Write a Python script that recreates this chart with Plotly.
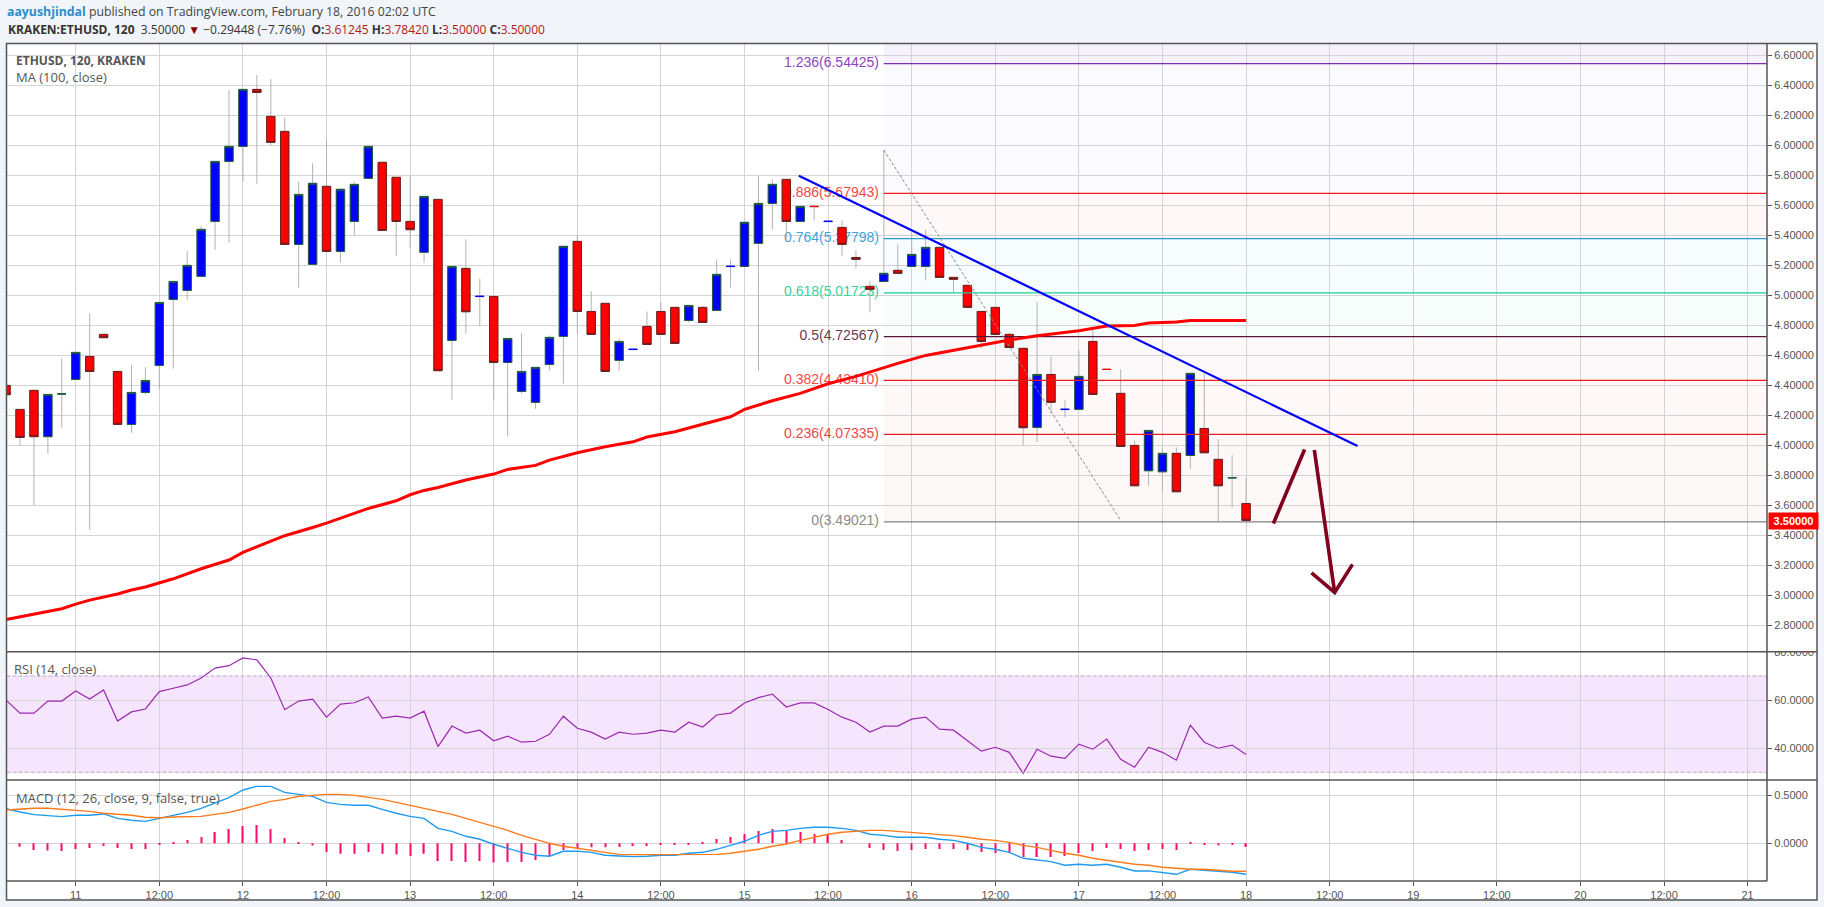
import datetime
import plotly.graph_objects as go

W = 1824
H = 907

# bars are 2h, bar 0 is Feb 11 00:00
first_bar = -5
open_ = [4.40, 4.24, 4.367, 4.058, 4.342, 4.44, 4.593, 4.74, 4.493, 4.14, 4.353, 4.533, 4.973, 5.033, 5.127, 5.493, 5.893, 5.993,
         6.373, 6.193, 6.093, 5.34, 5.207, 5.727, 5.293, 5.493, 5.78, 5.887, 5.787, 5.493, 5.287, 5.64, 4.7, 5.18, 4.992, 4.993,
         4.553, 4.36, 4.287, 4.54, 4.727, 5.36, 4.893, 4.947, 4.567, 4.639, 4.793, 4.893, 4.92, 4.833, 4.92, 4.9, 5.192, 5.193,
         5.347, 5.613, 5.773, 5.493, 5.594, 5.492, 5.453, 5.253, 5.06, 5.093, 5.167, 5.193, 5.193, 5.32, 5.12, 5.067, 4.893, 4.92,
         4.74, 4.647, 4.12, 4.473, 4.239, 4.24, 4.693, 4.508, 4.347, 4.0, 3.831, 3.824, 3.947, 3.933, 4.113, 3.907, 3.783, 3.61245]
high = [4.40, 4.24, 4.367, 4.34, 4.582, 4.62, 4.88, 4.74, 4.493, 4.536, 4.522, 4.953, 5.093, 5.296, 5.462, 5.893, 6.369, 6.373,
        6.469, 6.442, 6.187, 5.76, 5.88, 6.04, 5.713, 5.76, 5.993, 5.887, 5.787, 5.791, 5.66, 5.64, 5.193, 5.373, 5.113, 4.993,
        4.713, 4.749, 4.52, 4.733, 5.327, 5.40, 5.027, 4.947, 4.713, 4.641, 4.893, 4.953, 4.92, 4.933, 4.93, 5.24, 5.24, 5.487,
        5.796, 5.773, 5.773, 5.593, 5.594, 5.494, 5.5, 5.3, 5.093, 5.969, 5.34, 5.42, 5.436, 5.32, 5.12, 5.067, 4.893, 4.92,
        4.747, 4.647, 4.956, 4.593, 4.3, 4.633, 4.773, 4.508, 4.507, 4.033, 4.1, 3.991, 3.987, 4.48, 4.48, 4.042, 3.936, 3.7842]
low = [4.338, 4.00, 3.60, 3.944, 4.118, 4.44, 3.438, 4.718, 4.14, 4.084, 4.338, 4.378, 4.511, 4.971, 5.127, 5.304, 5.351, 5.758,
       5.744, 6.0, 5.34, 5.051, 5.207, 5.293, 5.218, 5.398, 5.78, 5.433, 5.264, 5.318, 5.218, 4.498, 4.304, 4.744, 4.8, 4.298,
       4.06, 4.344, 4.244, 4.498, 4.411, 4.744, 4.74, 4.493, 4.498, 4.639, 4.673, 4.74, 4.68, 4.818, 4.82, 4.9, 5.051, 5.193,
       4.498, 5.438, 5.353, 5.493, 5.5, 5.492, 5.26, 5.18, 4.887, 5.093, 5.147, 5.193, 5.1, 5.12, 5.02, 4.92, 4.647, 4.74,
       4.653, 4.0, 4.022, 4.213, 4.187, 4.24, 4.34, 4.506, 3.993, 3.731, 3.731, 3.698, 3.691, 3.844, 3.951, 3.496, 3.584, 3.5]
close = [4.338, 4.053, 4.058, 4.34, 4.344, 4.62, 4.493, 4.718, 4.14, 4.353, 4.433, 4.953, 5.093, 5.2, 5.44, 5.893, 5.993, 6.373,
         6.353, 6.02, 5.34, 5.673, 5.747, 5.293, 5.707, 5.74, 5.993, 5.433, 5.493, 5.438, 5.66, 4.498, 5.193, 4.891, 4.994, 4.553,
         4.713, 4.493, 4.52, 4.72, 5.327, 4.893, 4.74, 4.493, 4.693, 4.641, 4.673, 4.74, 4.68, 4.933, 4.82, 5.14, 5.194, 5.487,
         5.613, 5.74, 5.493, 5.593, 5.592, 5.494, 5.34, 5.24, 5.04, 5.147, 5.147, 5.273, 5.32, 5.12, 5.107, 4.92, 4.693, 4.74,
         4.653, 4.118, 4.473, 4.287, 4.241, 4.46, 4.34, 4.506, 3.993, 3.731, 4.1, 3.947, 3.691, 4.48, 3.951, 3.731, 3.785, 3.5]
thin_dash_bars = [29, 40, 47, 53, 54, 71, 74]

ma_bars = [-5, -3, -1, 0, 1, 3, 4, 5, 6, 7, 9, 11, 12, 14, 15, 17, 18, 21, 23, 24, 25, 26, 28, 30, 31, 33, 34, 36, 38, 40, 41, 43,
           45, 47, 48, 49, 50, 52, 54, 56, 58, 59, 61, 64, 65, 67, 69, 72, 74, 76, 77, 79, 80, 84]
ma_values = [2.84, 2.876, 2.911, 2.942, 2.969, 3.01, 3.036, 3.056, 3.084, 3.111, 3.178, 3.236, 3.287, 3.362, 3.398, 3.453, 3.482,
             3.58, 3.631, 3.671, 3.7, 3.72, 3.769, 3.809, 3.84, 3.867, 3.902, 3.951, 3.991, 4.024, 4.056, 4.091, 4.14, 4.191, 4.24,
             4.269, 4.298, 4.347, 4.411, 4.46, 4.52, 4.547, 4.6, 4.651, 4.669, 4.702, 4.731, 4.764, 4.796, 4.8, 4.816, 4.822, 4.833, 4.833]

rsi = [60, 54.6, 54.6, 59.6, 59.6, 63.8, 60.4, 64.2, 51.3, 55.1, 56.3, 63.5, 64.9, 66.3, 69.2, 73.3, 74.3, 77.5, 76.7, 69.2, 56, 59.6,
       60.4, 52.9, 58.3, 58.9, 61.3, 52.5, 53.3, 52.5, 55.4, 40.7, 49.2, 46.3, 47.5, 43.1, 45, 42.5, 42.9, 45.8, 53.3, 48.3, 46.7, 43.8,
       46.7, 45.8, 46.3, 47.5, 46.7, 50.8, 48.8, 53.8, 54.6, 58.8, 61, 62.5, 57.1, 58.8, 58.8, 56.1, 52.9, 50.8, 46.7, 49.2, 49.2, 52.1,
       52.9, 47.9, 47.5, 43.3, 38.8, 40.4, 38.3, 29.6, 39.6, 36.7, 35.8, 41.7, 39.6, 43.8, 35.4, 32.1, 40.4, 38.3, 35, 49.6, 42.5, 40,
       41.3, 37.4]

macd = [.361, .326, .299, .288, .278, .292, .292, .306, .26, .24, .229, .26, .292, .323, .365, .424, .476, .556, .594, .594, .531, .51,
        .49, .427, .406, .396, .396, .354, .313, .281, .26, .156, .125, .073, .042, -.01, -.052, -.094, -.125, -.135, -.083, -.083,
        -.094, -.125, -.132, -.139, -.135, -.125, -.125, -.104, -.094, -.0625, -.021, .021, .083, .125, .135, .156, .167, .167, .156,
        .135, .094, .083, .0625, .0625, .0625, .042, .031, 0, -.042, -.0625, -.094, -.156, -.174, -.191, -.229, -.219, -.229, -.219,
        -.25, -.288, -.288, -.302, -.323, -.271, -.281, -.288, -.302, -.323]
signal = [.347, .358, .365, .365, .354, .344, .333, .313, .302, .292, .271, .267, .274, .281, .281, .302, .323, .358, .399, .4375, .458,
          .49, .5, .51, .51, .5, .479, .458, .427, .396, .365, .333, .302, .26, .219, .177, .135, .083, .042, 0, -.031, -.052, -.073,
          -.094, -.115, -.118, -.118, -.118, -.118, -.118, -.115, -.115, -.104, -.083, -.0625, -.031, -.007, .031, .0625, .094, .115,
          .125, .135, .135, .125, .115, .104, .094, .08, .0625, .042, .031, .01, -.021, -.042, -.073, -.104, -.125, -.156, -.177,
          -.198, -.219, -.229, -.25, -.26, -.271, -.271, -.281, -.292, -.292]
hist = [0, -.035, -.07, -.076, -.08, -.059, -.049, -.028, -.049, -.059, -.059, -.01, .014, .035, .066, .118, .149, .18, .19, .149, .056,
        .014, -.024, -.09, -.108, -.108, -.09, -.108, -.118, -.132, -.108, -.184, -.184, -.194, -.184, -.2, -.194, -.194, -.174, -.132,
        -.07, -.049, -.042, -.042, -.038, -.028, -.028, -.017, -.014, -.01, .014, .045, .066, .097, .128, .149, .128, .118, .097, .087,
        .035, 0, -.049, -.07, -.08, -.07, -.059, -.059, -.059, -.07, -.09, -.1, -.09, -.142, -.142, -.142, -.132, -.1, -.08, -.049,
        -.059, -.08, -.07, -.059, -.07, .014, -.014, -.024, -.01, -.038]

fib_prices = [6.54425, 5.67943, 5.37798, 5.01723, 4.72567, 4.43410, 4.07335, 3.49021]
fib_labels = ["1.236(6.54425)", "0.886(5.67943)", "0.764(5.37798)", "0.618(5.01723)", "0.5(4.72567)", "0.382(4.43410)",
              "0.236(4.07335)", "0(3.49021)"]
fib_colors = ["#7b2fb5", "#f01818", "#2a9ad6", "#1fcf98", "#55183a", "#f01818", "#e02020", "#808080"]
fib_text_colors = ["#8a45c0", "#f44848", "#3fa3dc", "#35d3a0", "#6a3a55", "#f44848", "#e64a4a", "#8a8a8a"]
fib_bands = ["#fafaff", "#fff8f8", "#f7fcff", "#f7fdfb", "#fbf8fa", "#fff8f8", "#fdf8f8"]
fib_top_band = "#f5f2fd"
fib_start = 58

trend_bars = [51.9, 92]
trend_prices = [5.798, 3.996]
retrace_bars = [58, 75]
retrace_prices = [5.969, 3.50]
drawn_up_bars = [85.96, 88.2]
drawn_up_prices = [3.48, 3.973]
drawn_down_bars = [88.9, 90.36]
drawn_down_prices = [3.969, 3.02]
drawn_head_bars = [88.7, 90.36, 91.64]
drawn_head_prices = [3.151, 3.02, 3.207]

day_ticks = [0, 6, 12, 18, 24, 30, 36, 42, 48, 54, 60, 66, 72, 78, 84, 90, 96, 102, 108, 114, 120]
day_labels = ["11", "12:00", "12", "12:00", "13", "12:00", "14", "12:00", "15", "12:00", "16", "12:00", "17", "12:00", "18",
              "12:00", "19", "12:00", "20", "12:00", "21"]


def bar_time(i):
    return datetime.datetime(2016, 2, 11) + datetime.timedelta(hours=2 * i)


def px(x):
    return x / W


def py(y):
    return 1 - y / H


bars = list(range(first_bar, first_bar + len(close)))
times = [bar_time(i) for i in bars]
x_range = [bar_time(-4.97), bar_time(121.39)]

GRID = "#d4d4d4"
FRAME = "#555555"
TEXT = "#555555"
FONT = "Liberation Sans"

fig = go.Figure()

# fib text sits on the base axis so the candles go over it
fig.add_trace(go.Scatter(x=[bar_time(fib_start - 0.35)] * len(fib_prices), y=fib_prices, mode="text", text=fib_labels,
                         textposition="middle left", textfont=dict(family=FONT, size=14, color=fib_text_colors),
                         yaxis="y", hoverinfo="skip"))

# wicks
fig.add_trace(go.Candlestick(x=times, open=open_, high=high, low=low, close=close, yaxis="y4", whiskerwidth=0,
                             increasing=dict(line=dict(color="#b3b3b3", width=1), fillcolor="#b3b3b3"),
                             decreasing=dict(line=dict(color="#b3b3b3", width=1), fillcolor="#b3b3b3")))

# bodies, dashes get their own trace because they have no dark border
body_o, body_c, dash_o, dash_c = [], [], [], []
for i, o, c in zip(bars, open_, close):
    if i in thin_dash_bars:
        body_o.append(None)
        body_c.append(None)
        dash_o.append(o)
        dash_c.append(c)
    else:
        body_o.append(o)
        body_c.append(c)
        dash_o.append(None)
        dash_c.append(None)


def top(a, b):
    return [None if p is None else max(p, q) for p, q in zip(a, b)]


def bottom(a, b):
    return [None if p is None else min(p, q) for p, q in zip(a, b)]


fig.add_trace(go.Candlestick(x=times, open=body_o, high=top(body_o, body_c), low=bottom(body_o, body_c), close=body_c,
                             yaxis="y4", whiskerwidth=0,
                             increasing=dict(line=dict(color="#1f5c3c", width=1), fillcolor="#0000ff"),
                             decreasing=dict(line=dict(color="#6b1f1f", width=1), fillcolor="#ff0000")))
fig.add_trace(go.Candlestick(x=times, open=dash_o, high=top(dash_o, dash_c), low=bottom(dash_o, dash_c), close=dash_c,
                             yaxis="y4", whiskerwidth=0,
                             increasing=dict(line=dict(color="#0000ff", width=1), fillcolor="#0000ff"),
                             decreasing=dict(line=dict(color="#ff0000", width=1), fillcolor="#ff0000")))

for price, color in zip(fib_prices, fib_colors):
    fig.add_trace(go.Scatter(x=[bar_time(fib_start), x_range[1]], y=[price, price], mode="lines", yaxis="y4",
                             line=dict(color=color, width=1.2), hoverinfo="skip"))

fig.add_trace(go.Scatter(x=[bar_time(i) for i in retrace_bars], y=retrace_prices, mode="lines", yaxis="y4",
                         line=dict(color="#8c8c8c", width=1, dash="3px,2px"), hoverinfo="skip"))
fig.add_trace(go.Scatter(x=[bar_time(i) for i in ma_bars], y=ma_values, mode="lines", yaxis="y4",
                         line=dict(color="#ff0000", width=3), name="MA (100, close)"))
fig.add_trace(go.Scatter(x=[bar_time(i) for i in trend_bars], y=trend_prices, mode="lines", yaxis="y4",
                         line=dict(color="#0000ff", width=2.2), hoverinfo="skip"))
for xs, ys in [(drawn_up_bars, drawn_up_prices), (drawn_down_bars, drawn_down_prices), (drawn_head_bars, drawn_head_prices)]:
    fig.add_trace(go.Scatter(x=[bar_time(i) for i in xs], y=ys, mode="lines", yaxis="y4",
                             line=dict(color="#80001e", width=3.6), hoverinfo="skip"))

# RSI
fig.add_trace(go.Scatter(x=times, y=rsi, mode="lines", yaxis="y2", line=dict(color="#9c27b0", width=1.2), name="RSI"))

# MACD
fig.add_trace(go.Bar(x=times, y=hist, yaxis="y3", width=620000, marker=dict(color="#ff0a6c", line=dict(width=0)), name="hist"))
fig.add_trace(go.Scatter(x=times, y=macd, mode="lines", yaxis="y3", line=dict(color="#1e9bf0", width=1.4), name="MACD"))
fig.add_trace(go.Scatter(x=times, y=signal, mode="lines", yaxis="y3", line=dict(color="#ff7a1a", width=1.4), name="Signal"))

shapes = []
# white price and time strips
shapes.append(dict(type="rect", xref="paper", yref="paper", x0=px(6.5), x1=px(1817), y0=py(900), y1=py(43.5),
                   fillcolor="white", line=dict(width=0), layer="below"))

# fib bands
band_edges = [6.679] + fib_prices
band_colors = [fib_top_band] + fib_bands
for k, color in enumerate(band_colors):
    shapes.append(dict(type="rect", xref="x", yref="y", x0=bar_time(fib_start), x1=x_range[1], y0=band_edges[k + 1], y1=band_edges[k],
                       fillcolor=color, line=dict(width=0), layer="below"))

# RSI band
shapes.append(dict(type="rect", xref="x", yref="y2", x0=x_range[0], x1=x_range[1], y0=30, y1=70,
                   fillcolor="#f5e6fd", line=dict(width=0), layer="below"))
for level in [30, 70]:
    shapes.append(dict(type="line", xref="x", yref="y2", x0=x_range[0], x1=x_range[1], y0=level, y1=level,
                       line=dict(color="#bda6c8", width=1, dash="4px,2px"), layer="above"))

# hides the top of the clipped 80.0000 label
shapes.append(dict(type="rect", xref="paper", yref="paper", x0=px(1769), x1=px(1816), y0=py(651.5), y1=py(640),
                   fillcolor="white", line=dict(width=0), layer="above"))

# frame and pane separators
for y in [651.7, 780, 881]:
    x_end = 1817 if y != 881 else 1767
    shapes.append(dict(type="line", xref="paper", yref="paper", x0=px(6.5), x1=px(x_end), y0=py(y), y1=py(y),
                       line=dict(color=FRAME, width=1.5), layer="above"))
shapes.append(dict(type="line", xref="paper", yref="paper", x0=px(1767), x1=px(1767), y0=py(43.5), y1=py(881),
                   line=dict(color=FRAME, width=1.5), layer="above"))
shapes.append(dict(type="rect", xref="paper", yref="paper", x0=px(6.5), x1=px(1817), y0=py(900), y1=py(43.5),
                   line=dict(color=FRAME, width=1.5), layer="above"))


def note(x, y, text, size=13, color=TEXT, family="Open Sans"):
    return dict(xref="paper", yref="paper", x=px(x), y=py(y), text=text, showarrow=False, xanchor="left", yanchor="middle",
                align="left", font=dict(family=family, size=size, color=color))


row1 = '<b><span style="color:#2a8fcb">aayushjindal</span></b> published on TradingView.com, February 18, 2016 02:02 UTC'
ohlc = ""
for key, val in [("O", "3.61245"), ("H", "3.78420"), ("L", "3.50000"), ("C", "3.50000")]:
    ohlc += '<b>%s:</b><span style="color:#b01818">%s</span> ' % (key, val)
row2 = '<b>KRAKEN:ETHUSD, 120</b>  3.50000 <span style="color:#8b0000">▼</span> −0.29448 (−7.76%)  ' + ohlc

annotations = [
    note(5, 11.5, row1, size=12.3, color="#444444"),
    note(6, 30, row2, size=12, color="#333333"),
    note(14, 60.5, "<b>ETHUSD, 120, KRAKEN</b>", size=12),
    note(14, 77.5, "MA (100, close)"),
    note(12, 668.7, "RSI (14, close)"),
    note(14, 797.7, "MACD (12, 26, close, 9, false, true)"),
    dict(xref="paper", yref="paper", x=px(1767.5), y=py(521), text="<b>3.50000</b>", showarrow=False, xanchor="left", yanchor="middle",
         width=49, height=16, align="center", bgcolor="#ff0000", borderpad=0, font=dict(family=FONT, size=11, color="white")),
]


def price_axis(y0, y1, rng, vals, fmt):
    return dict(domain=[py(y1), py(y0)], range=rng, side="right", anchor="x", tickmode="array", tickvals=vals, tickformat=fmt,
                showgrid=True, gridcolor=GRID, gridwidth=1, zeroline=False, ticks="outside", ticklen=4, tickcolor=FRAME,
                tickfont=dict(family=FONT, size=11, color=TEXT), showline=False)


main_range = [2.625, 6.679]
main_ticks = [2.8, 3.0, 3.2, 3.4, 3.6, 3.8, 4.0, 4.2, 4.4, 4.6, 4.8, 5.0, 5.2, 5.4, 5.6, 5.8, 6.0, 6.2, 6.4, 6.6]

fig.update_layout(
    width=W,
    height=H,
    margin=dict(l=0, r=0, t=0, b=0, autoexpand=False),
    paper_bgcolor="#f1f4f8",
    plot_bgcolor="white",
    showlegend=False,
    barmode="overlay",
    boxgap=0.4,
    boxgroupgap=0,
    shapes=shapes,
    annotations=annotations,
    xaxis=dict(type="date", domain=[px(6.5), px(1767)], range=x_range, anchor="y3", rangeslider=dict(visible=False), tickmode="array",
               tickvals=[bar_time(i) for i in day_ticks], ticktext=day_labels, showgrid=True, gridcolor=GRID, gridwidth=1,
               ticks="outside", ticklen=4, tickcolor=FRAME, tickfont=dict(family=FONT, size=11, color=TEXT), zeroline=False),
    yaxis=price_axis(43.5, 651.7, main_range, main_ticks, ".5f"),
    yaxis2=price_axis(651.7, 780, [26.8, 80.1], [40, 60, 80], ".4f"),
    yaxis3=price_axis(780, 881, [-0.393, 0.66], [0, 0.5], ".4f"),
    yaxis4=dict(overlaying="y", side="right", range=main_range, showgrid=False, showticklabels=False, ticks="", zeroline=False),
)

fig.write_html("out.html", config=dict(displayModeBar=False),
               post_script="document.body.style.margin='0';document.body.style.overflow='hidden';")
